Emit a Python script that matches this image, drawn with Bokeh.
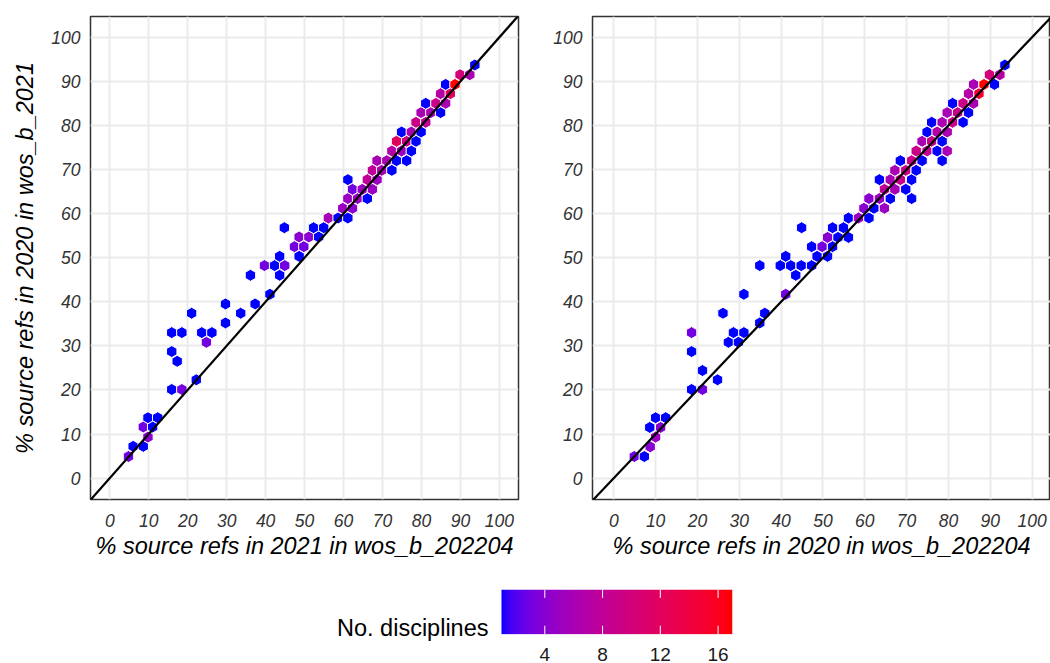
import numpy as np
from bokeh.plotting import figure
from bokeh.models import (Range1d, FixedTicker, LinearColorMapper, Slope, Label,
                          ColumnDataSource)
from bokeh.layouts import column, row
from bokeh.embed import file_html
from bokeh.resources import INLINE

# ---------------- data (hex-bin centres and counts) ----------------
ticks = [0, 10, 20, 30, 40, 50, 60, 70, 80, 90, 100]
cbar_ticks = [4, 8, 12, 16]
n_low, n_high = 1, 17

left_x = [4.8, 6.0, 8.6, 8.6, 9.8, 11.0, 9.8, 12.3, 15.9, 18.5, 22.2, 15.9, 17.3, 15.9, 18.5,
          23.6, 26.2, 24.8, 21.0, 29.7, 29.7, 33.6, 37.3, 41.1, 36.1, 39.7, 42.3, 44.9, 43.6,
          43.6, 47.4, 49.8, 48.6, 48.6, 51.1, 53.6, 52.3, 54.9, 44.8, 56.1, 58.6, 61.1, 59.8,
          62.3, 61.1, 63.6, 66.1, 61.1, 62.3, 64.8, 67.4, 66.1, 68.6, 67.4, 68.6, 69.8, 71.1,
          72.4, 73.6, 72.4, 74.9, 76.2, 77.4, 73.6, 76.2, 78.6, 74.9, 77.4, 79.9, 78.6, 81.1,
          79.9, 82.4, 84.9, 81.1, 83.7, 86.2, 84.9, 87.4, 86.2, 88.6, 89.9, 92.4, 93.7]
left_y = [4.9, 7.2, 7.2, 11.6, 9.3, 11.6, 13.7, 13.7, 20.1, 20.1, 22.3, 28.7, 26.5, 33.0, 33.0,
          33.0, 33.0, 30.8, 37.4, 39.5, 35.2, 37.4, 39.5, 41.7, 46.0, 48.2, 48.2, 48.2, 46.0,
          50.3, 52.5, 52.5, 50.3, 54.7, 54.7, 54.7, 56.8, 56.8, 56.8, 59.0, 59.0, 59.0, 61.2,
          61.2, 63.4, 63.4, 63.4, 67.7, 65.5, 65.5, 65.5, 67.7, 67.7, 69.8, 72.0, 69.8, 72.0,
          69.8, 72.0, 74.2, 74.2, 72.0, 74.2, 76.4, 76.4, 76.4, 78.5, 78.5, 78.5, 80.7, 80.7,
          82.9, 82.9, 82.9, 85.0, 85.0, 85.0, 87.2, 87.2, 89.3, 89.3, 91.5, 91.5, 93.7]
left_n = [3, 1, 1, 3, 4, 1, 1, 1, 1, 3, 1, 1, 1, 1, 1,
          1, 1, 3, 1, 1, 1, 1, 1, 1, 1, 3, 1, 3, 1,
          1, 3, 3, 1, 4, 4, 1, 1, 1, 1, 6, 1, 1, 5,
          4, 5, 5, 1, 1, 3, 5, 5, 8, 5, 8, 6, 6, 6,
          1, 1, 7, 5, 1, 1, 12, 9, 1, 1, 6, 1, 9, 8,
          6, 6, 1, 1, 9, 6, 7, 12, 1, 17, 10, 6, 1]

right_x = [4.9, 7.3, 8.7, 10.0, 8.6, 11.2, 10.0, 12.4, 18.6, 21.2, 21.2, 24.8, 18.6, 18.6,
           26.1, 27.4, 29.8, 28.6, 31.1, 34.9, 36.1, 31.1, 41.1, 34.9, 39.8, 42.3, 44.8, 47.3,
           43.5, 41.1, 44.9, 47.3, 48.6, 51.1, 49.8, 52.3, 51.1, 53.6, 56.1, 52.3, 54.9, 56.1,
           58.5, 61.0, 59.8, 62.2, 64.7, 61.0, 63.5, 66.1, 71.2, 64.7, 67.2, 69.8, 63.5, 66.1,
           68.5, 71.2, 67.2, 69.8, 72.3, 68.5, 71.2, 73.7, 78.5, 72.3, 74.9, 77.3, 79.7, 73.7,
           76.0, 78.5, 74.9, 77.3, 79.7, 76.0, 78.5, 81.0, 83.5, 79.7, 82.2, 84.8, 81.0, 83.5,
           86.0, 84.8, 87.3, 86.0, 88.5, 91.0, 89.8, 92.3, 93.5]
right_y = [4.9, 4.9, 7.1, 9.3, 11.5, 11.5, 13.7, 13.7, 20.1, 20.1, 24.4, 22.3, 28.7, 33.0,
           37.4, 30.8, 30.8, 33.0, 33.0, 35.2, 37.4, 41.7, 41.7, 48.2, 48.2, 48.2, 48.2, 48.2,
           46.0, 50.3, 56.8, 52.5, 50.3, 50.3, 52.5, 52.5, 54.6, 54.6, 54.6, 56.8, 56.8, 59.0,
           59.0, 59.0, 61.2, 61.2, 61.2, 63.4, 63.4, 63.4, 63.4, 65.5, 65.5, 65.5, 67.7, 67.7,
           67.7, 67.7, 69.8, 69.8, 69.8, 72.0, 72.0, 72.0, 72.0, 74.2, 74.2, 74.2, 74.2, 76.4,
           76.4, 76.4, 78.5, 78.5, 78.5, 80.7, 80.7, 80.7, 80.7, 82.9, 82.9, 82.9, 85.0, 85.0,
           85.0, 87.2, 87.2, 89.3, 89.3, 89.3, 91.5, 91.5, 93.7]
right_n = [3, 1, 4, 5, 1, 4, 1, 1, 1, 3, 1, 1, 1, 3,
           1, 1, 1, 1, 1, 1, 1, 1, 3, 1, 1, 1, 1, 1,
           1, 1, 1, 1, 1, 1, 3, 1, 4, 1, 1, 1, 1, 1,
           5, 1, 4, 1, 5, 4, 5, 1, 1, 8, 6, 1, 1, 6,
           9, 1, 6, 9, 1, 1, 9, 1, 1, 9, 8, 1, 6, 6,
           9, 1, 1, 7, 6, 1, 6, 9, 1, 6, 9, 1, 1, 9,
           6, 7, 15, 6, 17, 1, 10, 7, 1]

x_titles = ["% source refs in 2021 in wos_b_202204", "% source refs in 2020 in wos_b_202204"]
y_title = "% source refs in 2020 in wos_b_2021"
legend_title = "No. disciplines"

# ---------------- palette: blue -> red interpolated in CIE Lab (like ggplot) ----------------
M = np.array([[0.4124564, 0.3575761, 0.1804375],
              [0.2126729, 0.7151522, 0.0721750],
              [0.0193339, 0.1191920, 0.9503041]])
WP = np.array([0.95047, 1.0, 1.08883])


def to_lab(rgb):
    c = np.array(rgb, dtype=float) / 255.0
    lin = np.where(c <= 0.04045, c / 12.92, ((c + 0.055) / 1.055) ** 2.4)
    t = (M @ lin) / WP
    d = 6 / 29
    f = np.where(t > d ** 3, np.cbrt(t), t / (3 * d * d) + 4 / 29)
    return np.array([116 * f[1] - 16, 500 * (f[0] - f[1]), 200 * (f[1] - f[2])])


def to_hex(lab):
    L, a, b = lab
    fy = (L + 16) / 116
    f = np.array([fy + a / 500, fy, fy - b / 200])
    d = 6 / 29
    t = np.where(f > d, f ** 3, 3 * d * d * (f - 4 / 29))
    lin = np.clip(np.linalg.inv(M) @ (t * WP), 0, 1)
    c = np.where(lin <= 0.0031308, 12.92 * lin, 1.055 * lin ** (1 / 2.4) - 0.055)
    r, g, bb = (np.clip(c, 0, 1) * 255).round().astype(int)
    return "#%02x%02x%02x" % (r, g, bb)


lab_lo, lab_hi = to_lab((0, 0, 255)), to_lab((255, 0, 0))
palette = [to_hex(lab_lo + (lab_hi - lab_lo) * s) for s in np.linspace(0, 1, 256)]
mapper = LinearColorMapper(palette=palette, low=n_low, high=n_high)

FONT = "Liberation Sans"
TICK_COL = "#333333"


def panel(xs, ys, ns, xtitle, ytitle, width, xr, yr, mb_left, mb_right):
    p = figure(width=width, height=570, x_range=Range1d(*xr), y_range=Range1d(*yr),
               output_backend="svg", toolbar_location=None,
               min_border_left=mb_left, min_border_right=mb_right,
               min_border_top=16, min_border_bottom=71)
    p.background_fill_color = "white"
    p.border_fill_color = "white"
    p.outline_line_color = "#333333"
    p.outline_line_width = 1.5
    for ax in (p.xaxis[0], p.yaxis[0]):
        ax.ticker = FixedTicker(ticks=ticks)
        ax.major_tick_in = 0
        ax.major_tick_out = 0
        ax.minor_tick_line_color = None
        ax.axis_line_color = None
        ax.major_label_text_font = FONT
        ax.major_label_text_font_style = "italic"
        ax.major_label_text_font_size = "17.5px"
        ax.major_label_text_color = TICK_COL
        ax.axis_label_text_font = FONT
        ax.axis_label_text_font_style = "italic"
        ax.axis_label_text_font_size = "23.5px"
        ax.axis_label_text_color = "black"
    p.xaxis[0].major_label_standoff = 14
    p.xaxis[0].axis_label = xtitle
    p.xaxis[0].axis_label_standoff = 3
    p.yaxis[0].major_label_standoff = 10
    if ytitle:
        p.yaxis[0].axis_label = ytitle
        p.yaxis[0].axis_label_standoff = 10
    for g in (p.xgrid[0], p.ygrid[0]):
        g.grid_line_color = "#EBEBEB"
        g.grid_line_width = 2
    src = ColumnDataSource(dict(x=xs, y=ys, n=ns))
    p.scatter("x", "y", source=src, marker="hex", size=12, angle=np.pi / 6,
              fill_color={"field": "n", "transform": mapper}, line_color="white",
              line_width=1)
    p.add_layout(Slope(gradient=1, y_intercept=0, line_color="black", line_width=2.2))
    return p


p1 = panel(left_x, left_y, left_n, x_titles[0], y_title, 540,
           (-4.95, 104.9), (-4.85, 104.7), 90, 22)
p2 = panel(right_x, right_y, right_n, x_titles[1], None, 510,
           (-5.09, 104.4), (-4.85, 104.7), 52, 0)

# ---------------- colour bar ----------------
# frame spans from the legend title to the bar's right end (and a little below the bar so
# the title's descenders are not clipped); the bar itself covers n_low..n_high, y 0..1
bar_w, bar_h, below = 231, 48, 9
px_per_n = bar_w / (n_high - n_low)
title_space = 171 / px_per_n
pc = figure(width=742, height=93, x_range=Range1d(n_low - title_space, n_high),
            y_range=Range1d(-below / bar_h, 1), output_backend="svg", toolbar_location=None,
            y_axis_location=None, min_border_left=330, min_border_right=10,
            min_border_top=19, min_border_bottom=93 - 19 - bar_h - below)
pc.outline_line_color = None
pc.grid.visible = False
pc.background_fill_color = "white"
pc.border_fill_color = "white"
grad = np.linspace(n_low, n_high, 256).reshape(1, 256)
pc.image(image=[grad], x=n_low, y=0, dw=n_high - n_low, dh=1, color_mapper=mapper)
ax = pc.xaxis[0]
ax.ticker = FixedTicker(ticks=cbar_ticks)
ax.axis_line_color = None
ax.major_tick_in = 0
ax.major_tick_out = 0
ax.minor_tick_line_color = None
ax.major_label_standoff = 14 - below
ax.major_label_text_font = FONT
ax.major_label_text_font_size = "19px"
ax.major_label_text_color = "#1A1A1A"
tick_len = 9 / bar_h
nt = len(cbar_ticks)
pc.segment(x0=cbar_ticks, y0=[1 - tick_len] * nt, x1=cbar_ticks, y1=[1] * nt,
           line_color="white", line_width=1)
pc.segment(x0=cbar_ticks, y0=[0] * nt, x1=cbar_ticks, y1=[tick_len] * nt,
           line_color="white", line_width=1)
pc.add_layout(Label(x=n_low, y=0, x_offset=-13, y_offset=6, text=legend_title,
                    text_align="right", text_baseline="alphabetic", text_font=FONT,
                    text_font_size="23.5px", text_color="black"))

layout = column(row(p1, p2), pc)
open("out.html", "w").write(file_html(layout, INLINE))
